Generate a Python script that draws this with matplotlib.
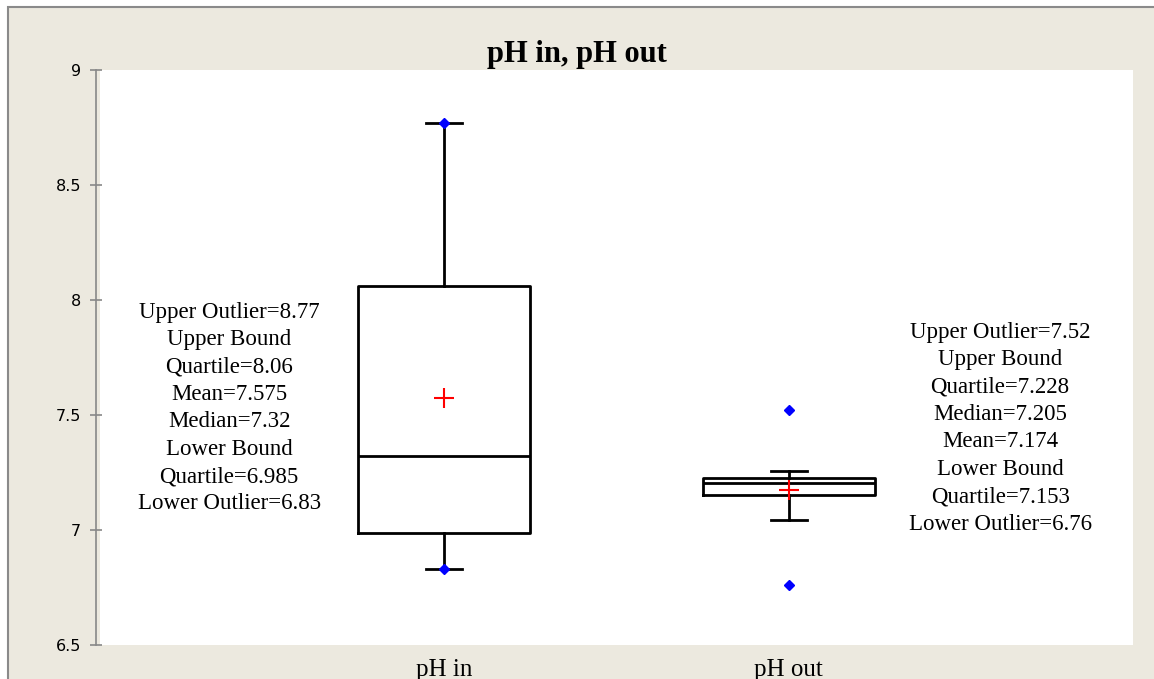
import numpy as np
import matplotlib
matplotlib.use('Agg')
import matplotlib.pyplot as plt
from matplotlib.patches import Rectangle

# box plot summary values
groups = ["pH in", "pH out"]
q1 = [6.985, 7.153]
medians = [7.32, 7.205]
q3 = [8.06, 7.228]
means = [7.575, 7.174]
whisker_lo = [6.83, 7.045]
whisker_hi = [8.77, 7.255]
lower_outliers = [6.83, 6.76]
upper_outliers = [8.77, 7.52]

left_note = ("Upper Outlier=8.77\nUpper Bound\nQuartile=8.06\nMean=7.575\n"
             "Median=7.32\nLower Bound\nQuartile=6.985\nLower Outlier=6.83")
right_note = ("Upper Outlier=7.52\nUpper Bound\nQuartile=7.228\nMedian=7.205\n"
              "Mean=7.174\nLower Bound\nQuartile=7.153\nLower Outlier=6.76")

serif = ['Liberation Serif', 'DejaVu Serif']
bg = '#ECE9DF'

fig = plt.figure(figsize=(11.54, 6.79), dpi=100, facecolor='white')
fig.patches.append(Rectangle((8 / 1154, -0.1), 1.2, 1 - 7 / 679 + 0.1,
                             transform=fig.transFigure, facecolor=bg,
                             edgecolor='#8a8a8a', linewidth=1.5, zorder=-10))

ax = fig.add_axes([100 / 1154, 1 - 645 / 679, 1033 / 1154, 575 / 679])
ax.set_facecolor('white')

positions = [1, 2]
stats = []
for i in range(len(groups)):
    stats.append({'label': groups[i], 'q1': q1[i], 'med': medians[i], 'q3': q3[i],
                  'whislo': whisker_lo[i], 'whishi': whisker_hi[i],
                  'mean': means[i], 'fliers': []})

ax.bxp(stats, positions=positions, widths=0.5, showfliers=False,
       boxprops=dict(color='black', linewidth=2),
       medianprops=dict(color='black', linewidth=2),
       whiskerprops=dict(color='black', linewidth=2),
       capprops=dict(color='black', linewidth=2), capwidths=0.105)

ax.plot(positions, means, linestyle='none', marker='+', color='red',
        markersize=14, markeredgewidth=1.5, zorder=5)
ax.plot(positions, lower_outliers, linestyle='none', marker='D', color='blue',
        markersize=5, zorder=6)
ax.plot(positions, upper_outliers, linestyle='none', marker='D', color='blue',
        markersize=5, zorder=6)

ax.text(0.375, 7.53, left_note, ha='center', va='center', fontsize=16.5,
        family=serif, linespacing=1.4)
ax.text(2.614, 7.443, right_note, ha='center', va='center', fontsize=16.5,
        family=serif, linespacing=1.4)

ax.set_xlim(0, 3)
ax.set_ylim(6.5, 9)
ax.set_yticks(np.arange(6.5, 9.01, 0.5))
ax.set_yticklabels(['6.5', '7', '7.5', '8', '8.5', '9'], family='DejaVu Sans')
ax.tick_params(axis='y', colors='#888888', labelcolor='black', labelsize=11.5,
               direction='inout', length=9, width=1.2, pad=6)
ax.set_xticks(positions)
ax.set_xticklabels(groups, family=serif, fontsize=18)
ax.tick_params(axis='x', length=0, pad=10)

for side in ['top', 'right', 'bottom']:
    ax.spines[side].set_visible(False)
ax.spines['left'].set_color('#888888')
ax.spines['left'].set_linewidth(1.2)
ax.spines['left'].set_position(('outward', 3))

fig.text(0.5, 1 - 62 / 679, "pH in, pH out", ha='center', va='baseline',
         fontsize=22, fontweight='bold', family=serif)

fig.savefig('out.png', dpi=100, facecolor=fig.get_facecolor())
